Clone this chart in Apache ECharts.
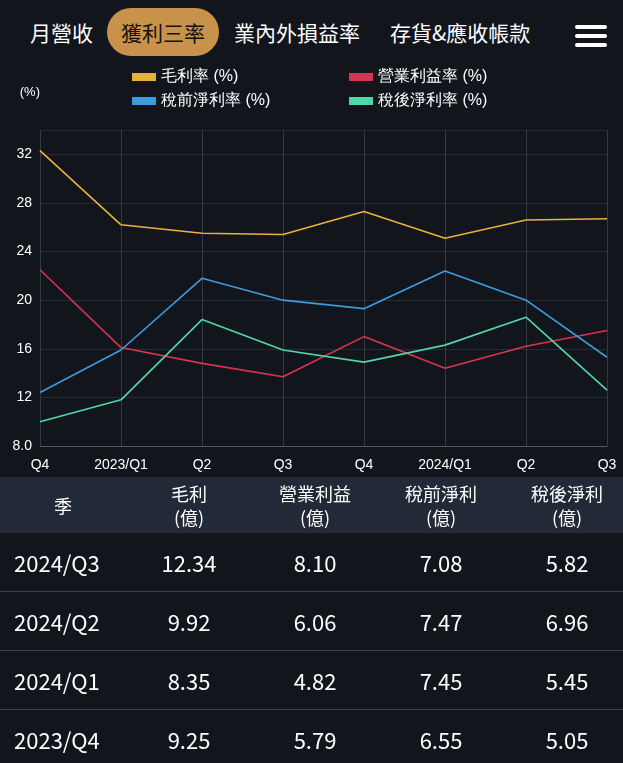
<!DOCTYPE html><html><head><meta charset="utf-8">
<script src="https://cdn.jsdelivr.net/npm/echarts@6/dist/echarts.min.js"></script>
<style>
body{margin:0;background:#12161c;font-family:"Noto Sans CJK TC","Noto Sans",sans-serif;color:#fff;width:623px;height:763px;overflow:hidden}
#tabs{position:absolute;top:8px;left:0;width:623px;height:48px}
.tab{position:absolute;top:0;height:48px;line-height:48px;font-size:21px;color:#fff}
.act{background:#c8924a;border-radius:24px;padding:0 14px;color:#111;left:107px}
#chart{position:absolute;top:58px;left:0;width:623px;height:420px}
table{position:absolute;top:477px;left:0;width:623px;border-collapse:collapse;table-layout:fixed}
th{background:#222a38;font-weight:normal;font-size:18px;line-height:24px;height:54px;color:#fff;width:124px}
td{font-size:22px;height:56px;text-align:center;border-bottom:1px solid #3a3f48}
td:first-child{text-align:left;padding-left:14px}
.menu{position:absolute;right:16px;top:12px}
.menu div{width:32px;height:4px;background:#fff;margin:5px 0;border-radius:2px}
</style></head><body>
<div id="tabs">
<div class="tab" style="left:30px">月營收</div>
<div class="tab act">獲利三率</div>
<div class="tab" style="left:234px">業內外損益率</div>
<div class="tab" style="left:390px">存貨&amp;應收帳款</div>
<div class="menu"><div></div><div></div><div></div></div>
</div>
<div id="chart"></div>
<table id="tbl"></table>
<script>
var categories=['Q4','2023/Q1','Q2','Q3','Q4','2024/Q1','Q2','Q3'];
var gross=[32.3,26.2,25.5,25.4,27.3,25.1,26.6,26.7];
var operating=[22.5,16.1,14.8,13.7,17.0,14.4,16.2,17.5];
var pretax=[12.4,15.9,21.8,20.0,19.3,22.4,20.0,15.3];
var aftertax=[10.0,11.8,18.4,15.9,14.9,16.3,18.6,12.6];
var tableHead=['季','毛利<br>(億)','營業利益<br>(億)','稅前淨利<br>(億)','稅後淨利<br>(億)'];
var tableRows=[['2024/Q3','12.34','8.10','7.08','5.82'],['2024/Q2','9.92','6.06','7.47','6.96'],['2024/Q1','8.35','4.82','7.45','5.45'],['2023/Q4','9.25','5.79','6.55','5.05']];
var h='<tr>'+tableHead.map(function(x){return '<th>'+x+'</th>'}).join('')+'</tr>';
tableRows.forEach(function(r){h+='<tr>'+r.map(function(x){return '<td>'+x+'</td>'}).join('')+'</tr>'});
document.getElementById('tbl').innerHTML=h;
var c=echarts.init(document.getElementById('chart'));
function s(n,d,col){return {name:n,type:'line',data:d,symbol:'none',lineStyle:{color:col,width:1.6},itemStyle:{color:col}};}
function lg(name,left,top){return {data:[name],left:left,top:top,itemWidth:24,itemHeight:8,icon:'rect',textStyle:{color:'#fff',fontSize:16}};}
c.setOption({
backgroundColor:'transparent',
legend:[lg('毛利率 (%)',127,6),lg('營業利益率 (%)',344,6),lg('稅前淨利率 (%)',127,30),lg('稅後淨利率 (%)',344,30)],
grid:{left:40,right:16,top:72,bottom:32},
xAxis:{type:'category',data:categories,boundaryGap:false,axisLine:{lineStyle:{color:'#555'}},axisTick:{show:false},
 axisLabel:{color:'#fff',fontSize:14,margin:12,showMaxLabel:true},splitLine:{show:true,lineStyle:{color:'#333a44'}}},
yAxis:{type:'value',min:8,max:34,interval:4,name:'(%)',nameTextStyle:{color:'#fff',fontSize:13,align:'right',padding:[0,0,16,0]},
 axisLabel:{color:'#fff',fontSize:14,showMaxLabel:false,formatter:function(v){return v===8?'8.0':v}},
 splitLine:{lineStyle:{color:'#262c35'}},axisLine:{show:false}},
series:[s('毛利率 (%)',gross,'#e8b13a'),s('營業利益率 (%)',operating,'#d9344f'),s('稅前淨利率 (%)',pretax,'#3d9be0'),s('稅後淨利率 (%)',aftertax,'#4fd8a5')]
});
</script></body></html>
